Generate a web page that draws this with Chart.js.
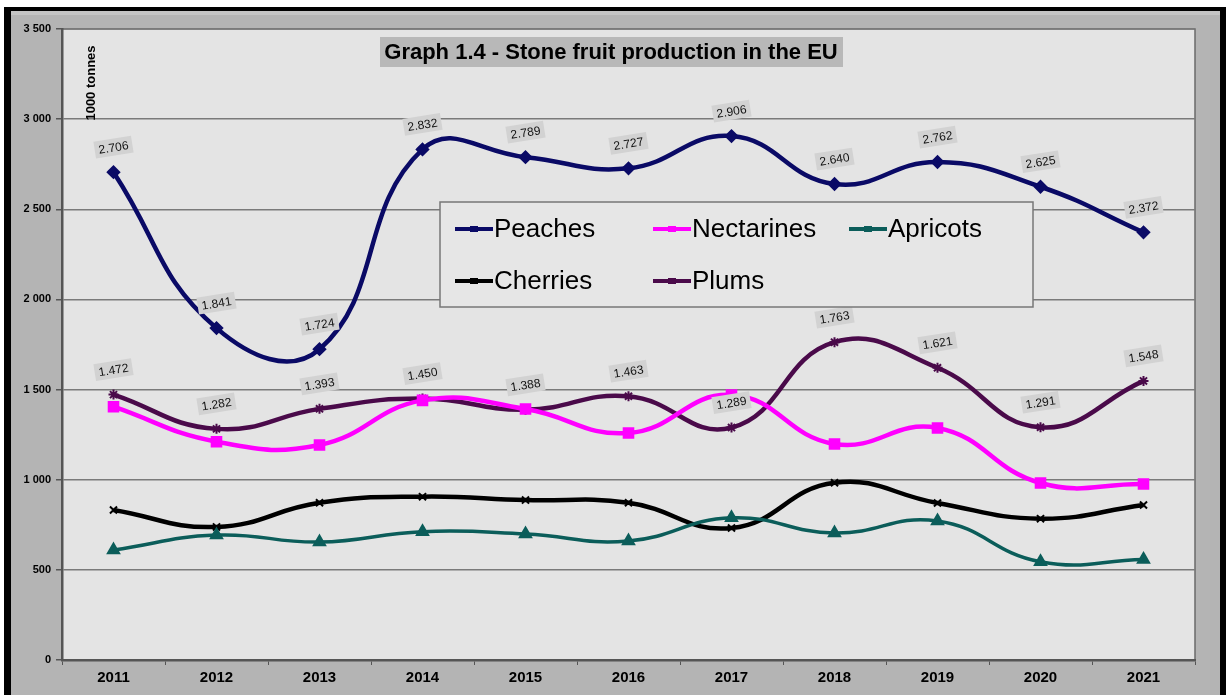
<!DOCTYPE html>
<html>
<head>
<meta charset="utf-8">
<script src="https://cdn.jsdelivr.net/npm/chart.js@4/dist/chart.umd.min.js"></script>
<style>
  html, body { margin: 0; padding: 0; background: #fff; }
  #wrap { width: 1226px; height: 695px; }
</style>
</head>
<body>
<div id="wrap"><canvas id="myChart"></canvas></div>
<script>
// data (1000 tonnes)
const years = ['2011', '2012', '2013', '2014', '2015', '2016', '2017', '2018', '2019', '2020', '2021'];
const peaches = [2706, 1841, 1724, 2832, 2789, 2727, 2906, 2640, 2762, 2625, 2372];
const nectarines = [1405, 1211, 1193, 1440, 1392, 1259, 1470, 1198, 1287, 982, 976];
const apricots = [610, 693, 654, 712, 699, 660, 789, 704, 771, 545, 558];
const cherries = [832, 738, 872, 906, 887, 872, 732, 983, 871, 784, 860];
const plums = [1472, 1282, 1393, 1450, 1388, 1463, 1289, 1763, 1621, 1291, 1548];
const yMin = 0, yMax = 3500, yStep = 500;

const titleText = 'Graph 1.4 - Stone fruit production in the EU';
const unitText = '1000 tonnes';

function spaced(v) { return String(v).replace(/\B(?=(\d{3})+(?!\d))/g, ' '); }
function dotted(v) { return String(v).replace(/\B(?=(\d{3})+(?!\d))/g, '.'); }

// frame, panel and plot background
const framePlugin = {
  id: 'frame',
  beforeDraw(chart) {
    const c = chart.ctx, a = chart.chartArea;
    c.save();
    c.fillStyle = '#ffffff';
    c.fillRect(0, 0, chart.width, chart.height);
    c.fillStyle = '#000000';
    c.fillRect(4, 7, chart.width - 4, chart.height - 7);
    c.fillStyle = '#b4b4b4';
    c.fillRect(11, 11, 1209, chart.height - 11);
    c.fillStyle = '#c4c4c4';
    c.fillRect(11, 11, 1209, 4);
    c.fillStyle = '#e4e4e4';
    c.fillRect(a.left, a.top, a.right - a.left, a.bottom - a.top);
    c.strokeStyle = '#6a6a6a';
    c.lineWidth = 1.5;
    c.beginPath();
    c.moveTo(a.left, a.top);
    c.lineTo(a.right, a.top);
    c.lineTo(a.right, a.bottom);
    c.stroke();
    c.restore();
  }
};

// value boxes above peaches and plums
const valueLabels = {
  id: 'valueLabels',
  afterDatasetsDraw(chart) {
    const c = chart.ctx;
    c.save();
    c.font = '12px "Liberation Sans", Arial, sans-serif';
    c.textAlign = 'center';
    c.textBaseline = 'middle';
    chart.data.datasets.forEach((ds, di) => {
      if (!ds.showValues) return;
      const meta = chart.getDatasetMeta(di);
      meta.data.forEach((pt, i) => {
        const txt = dotted(ds.data[i]);
        const w = c.measureText(txt).width + 8;
        const h = 17;
        c.save();
        c.translate(pt.x, pt.y - 25);
        c.rotate(-9 * Math.PI / 180);
        c.fillStyle = '#d2d2d2';
        c.fillRect(-w / 2, -h / 2, w, h);
        c.fillStyle = '#111111';
        c.fillText(txt, 0, 1);
        c.restore();
      });
    });
    c.restore();
  }
};

// title box, unit label and legend box
const overlay = {
  id: 'overlay',
  afterDraw(chart) {
    const c = chart.ctx;
    c.save();
    // title
    c.fillStyle = '#b8b8b8';
    c.fillRect(380, 37, 463, 30);
    c.fillStyle = '#000';
    c.font = 'bold 22px "Liberation Sans", Arial, sans-serif';
    c.textAlign = 'center';
    c.textBaseline = 'middle';
    c.fillText(titleText, 611, 53);
    // unit
    c.save();
    c.translate(91, 83);
    c.rotate(-Math.PI / 2);
    c.font = 'bold 13px "Liberation Sans", Arial, sans-serif';
    c.fillText(unitText, 0, 0);
    c.restore();
    // legend
    c.fillStyle = '#e6e6e6';
    c.fillRect(440, 202, 593, 105);
    c.strokeStyle = '#777';
    c.lineWidth = 1.5;
    c.strokeRect(440, 202, 593, 105);
    const spots = [[455, 229], [653, 229], [849, 229], [455, 281], [653, 281]];
    c.font = '26px "Liberation Sans", Arial, sans-serif';
    c.textAlign = 'left';
    chart.data.datasets.forEach((ds, i) => {
      const [x, y] = spots[i];
      c.strokeStyle = ds.borderColor;
      c.lineWidth = 4;
      c.beginPath();
      c.moveTo(x, y);
      c.lineTo(x + 38, y);
      c.stroke();
      c.fillStyle = ds.borderColor;
      c.fillRect(x + 15, y - 3, 8, 6);
      c.fillStyle = '#000';
      c.fillText(ds.label, x + 39, y + 1);
    });
    c.restore();
  }
};

const ctx = document.getElementById('myChart').getContext('2d');
const myChart = new Chart(ctx, {
  type: 'line',
  data: {
    labels: years,
    datasets: [
      { label: 'Peaches', data: peaches, borderColor: '#0a0a66', backgroundColor: '#0a0a66',
        borderWidth: 4.5, pointStyle: 'rectRot', pointRadius: 4, showValues: true },
      { label: 'Nectarines', data: nectarines, borderColor: '#ff00ff', backgroundColor: '#ff00ff',
        borderWidth: 4.5, pointStyle: 'rect', pointRadius: 5 },
      { label: 'Apricots', data: apricots, borderColor: '#0b5d5a', backgroundColor: '#0b5d5a',
        borderWidth: 3.5, pointStyle: 'triangle', pointRadius: 5 },
      { label: 'Cherries', data: cherries, borderColor: '#000000', backgroundColor: '#000000',
        borderWidth: 4.5, pointStyle: 'crossRot', pointRadius: 5, pointBorderWidth: 2 },
      { label: 'Plums', data: plums, borderColor: '#4a0a4a', backgroundColor: '#4a0a4a',
        borderWidth: 4.5, pointStyle: 'star', pointRadius: 5, pointBorderWidth: 2, showValues: true }
    ]
  },
  options: {
    responsive: true,
    maintainAspectRatio: false,
    animation: false,
    elements: { line: { tension: 0.45, capBezierPoints: false } },
    layout: { padding: { left: 12, top: 29, right: 31, bottom: 0 } },
    plugins: {
      legend: { display: false },
      tooltip: { enabled: false },
      title: { display: false }
    },
    scales: {
      y: {
        min: yMin,
        max: yMax,
        afterFit(s) { s.width = 50; },
        ticks: {
          stepSize: yStep,
          color: '#000',
          padding: 5,
          font: { family: '"Liberation Sans", Arial, sans-serif', size: 11, weight: 'bold' },
          callback: v => spaced(v)
        },
        grid: { color: '#7a7a7a', lineWidth: 1.5, tickLength: 6, tickColor: '#555' },
        border: { color: '#555', width: 2.5 }
      },
      x: {
        offset: true,
        afterFit(s) { s.height = 35; },
        ticks: {
          color: '#000',
          padding: 4,
          font: { family: '"Liberation Sans", Arial, sans-serif', size: 15, weight: 'bold' }
        },
        grid: { offset: true, drawOnChartArea: false, tickLength: 5, tickColor: '#555' },
        border: { color: '#555', width: 2.5 }
      }
    }
  },
  plugins: [framePlugin, valueLabels, overlay]
});
</script>
</body>
</html>
